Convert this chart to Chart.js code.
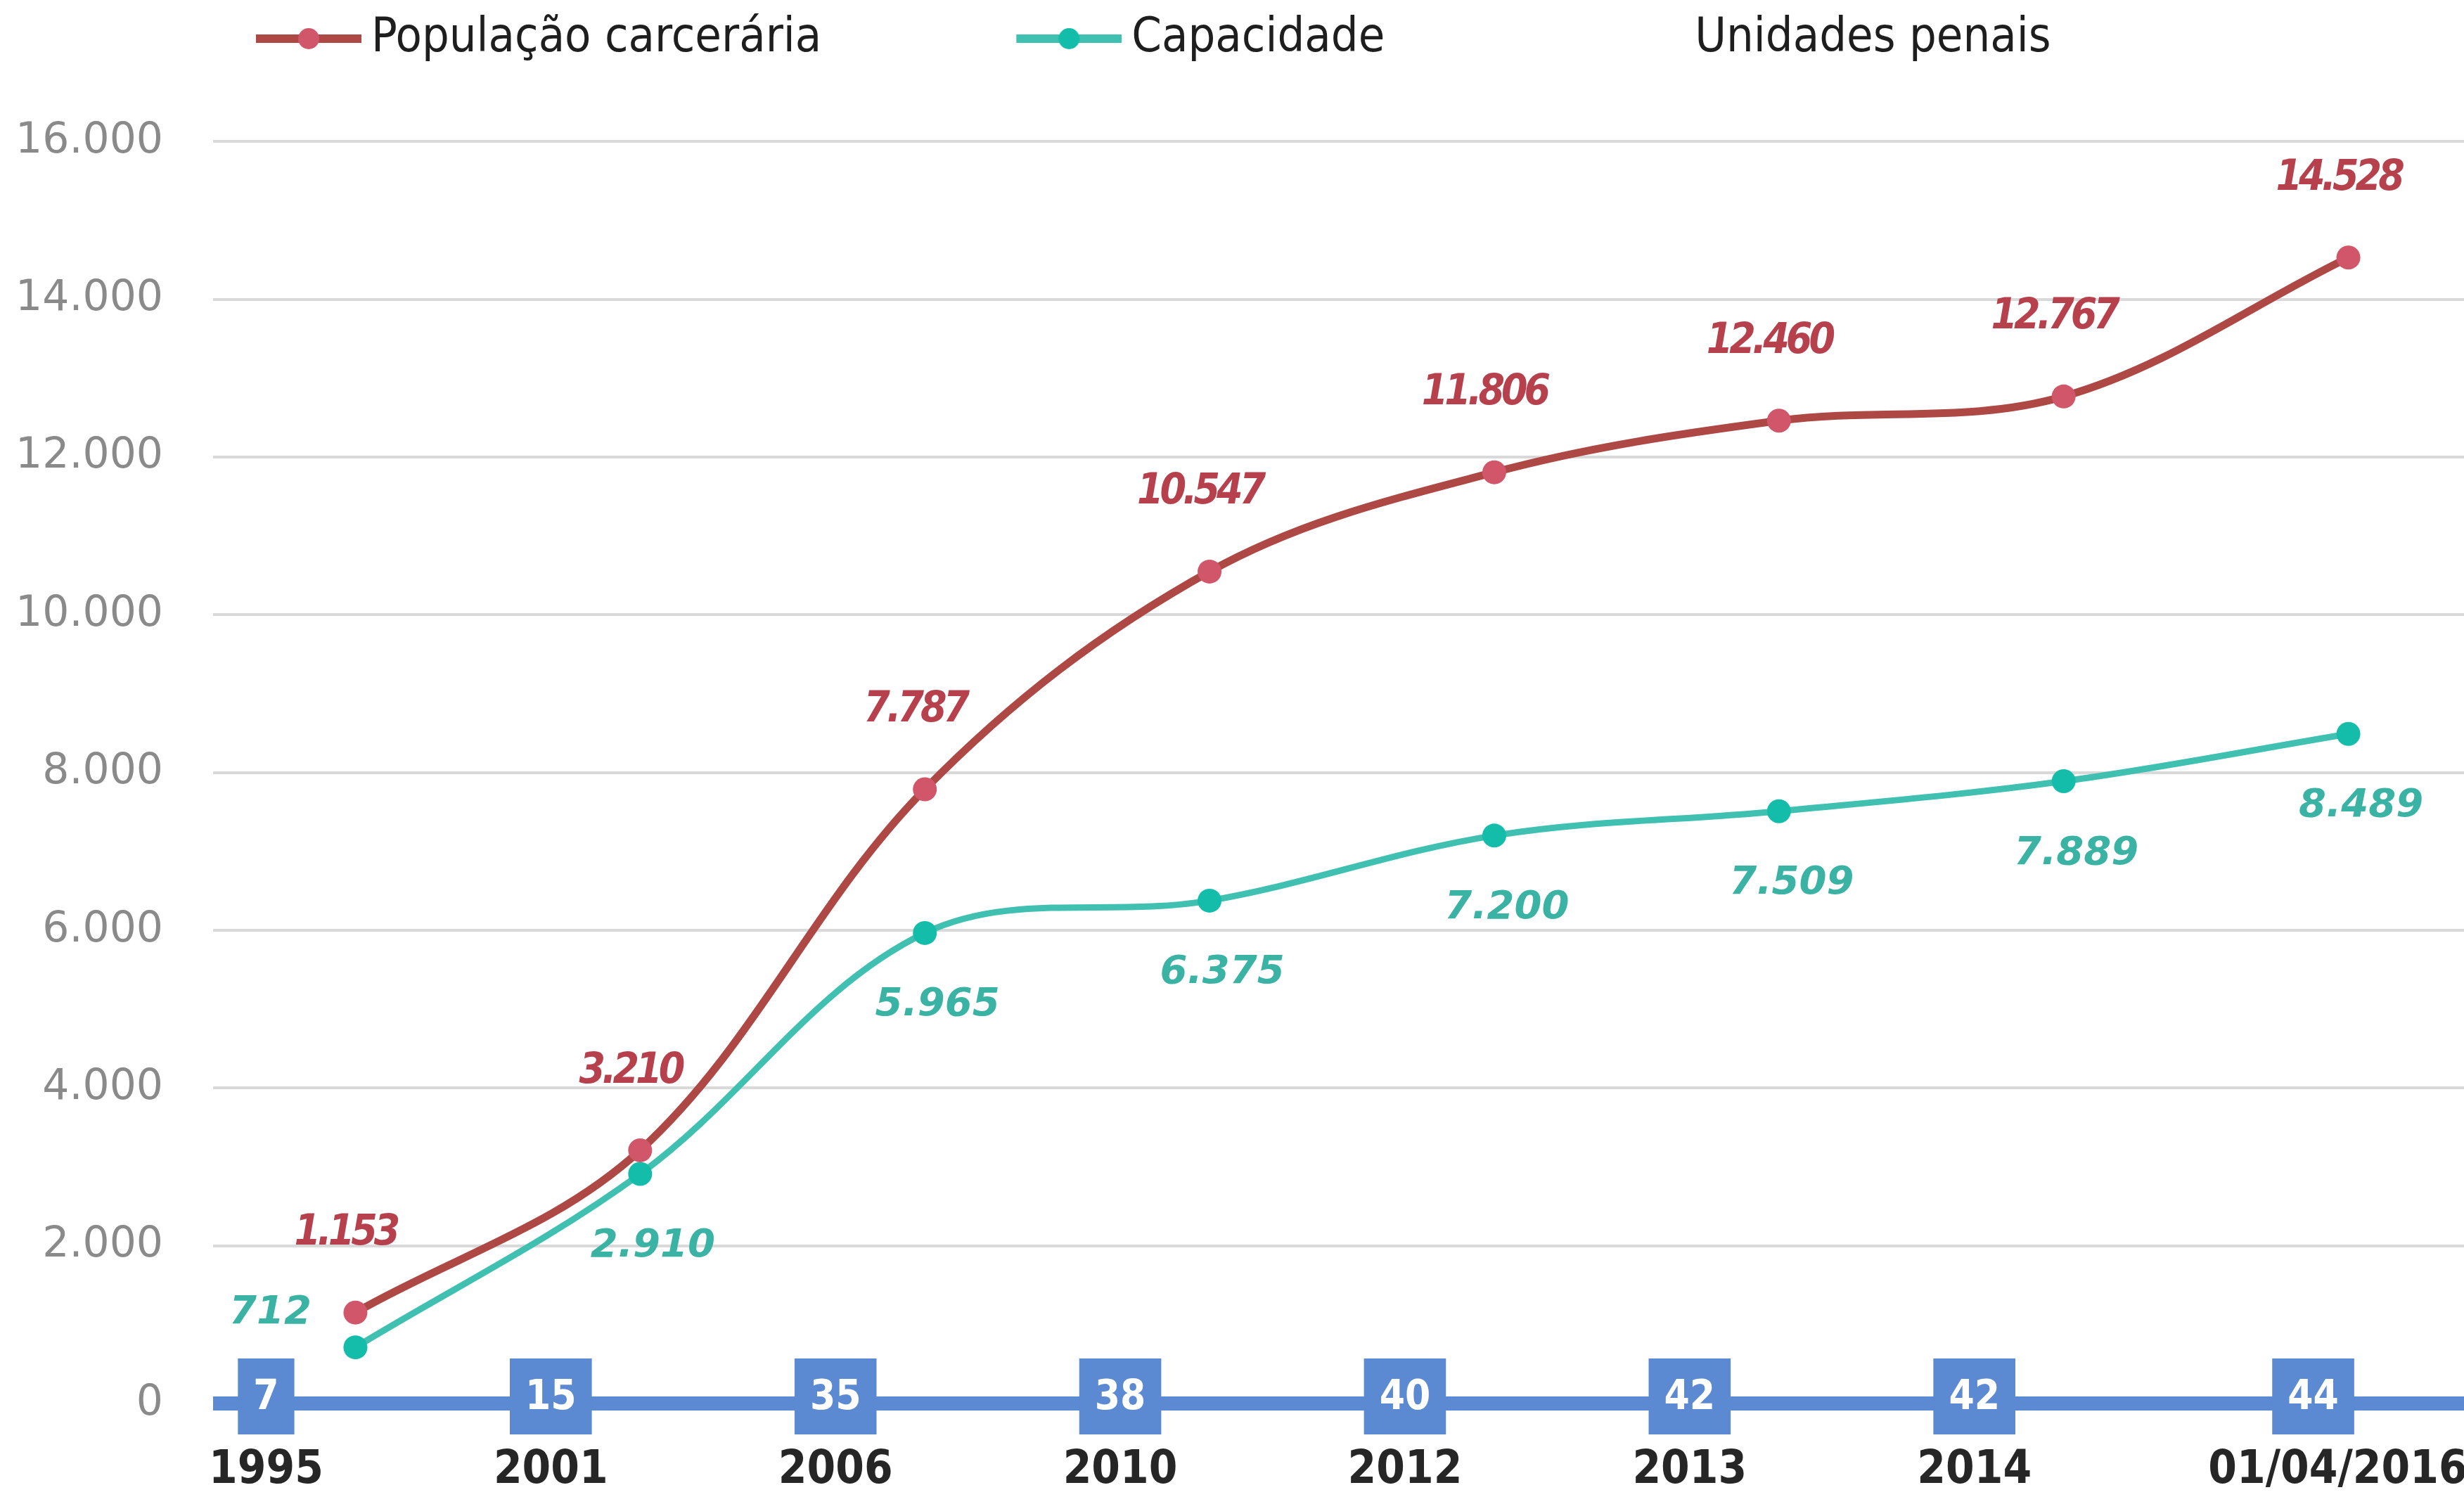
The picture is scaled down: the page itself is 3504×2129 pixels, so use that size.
<!DOCTYPE html>
<html>
<head>
<meta charset="utf-8">
<script src="https://cdn.jsdelivr.net/npm/chart.js@4.4.1/dist/chart.umd.min.js"></script>
<style>
html, body { margin: 0; padding: 0; background: #fff; overflow: hidden; }
canvas { display: block; }
</style>
</head>
<body>
<canvas id="chart" width="3559" height="2129"></canvas>
<script>
const categories = ['1995', '2001', '2006', '2010', '2012', '2013', '2014', '01/04/2016'];
const populacao = [1153, 3210, 7787, 10547, 11806, 12460, 12767, 14528];
const capacidade = [712, 2910, 5965, 6375, 7200, 7509, 7889, 8489];
const unidades = [7, 15, 35, 38, 40, 42, 42, 44];
const yMin = 0, yMax = 16000, yStep = 2000;

const RED = '#ad4845', RED_DOT = '#d2566a', RED_TEXT = '#b6404c';
const TEAL = '#3fc0b1', TEAL_DOT = '#14bdaa', TEAL_TEXT = '#3ab3a4';
const BLUE = '#5b8ad2';
const COND = '"DejaVu Sans Condensed", "DejaVu Sans", sans-serif';
const WIDE = '"DejaVu Sans", sans-serif';
const SHIFT = -127;      // year labels + unit boxes sit left of the points
const LAST_SHIFT = -50;  // ...except the last column, less so
const LEGEND_INSET = 87;

function fmt(v) {
  return String(v).replace(/\B(?=(\d{3})+(?!\d))/g, '.');
}

// legend marker: thick line with a dot, blank for "Unidades penais"
function marker(line, dot) {
  const c = document.createElement('canvas');
  c.width = 426;
  c.height = 40;
  if (line) {
    const g = c.getContext('2d');
    g.fillStyle = line;
    g.fillRect(c.width - 150, 14, 150, 12);
    g.fillStyle = dot;
    g.beginPath();
    g.arc(c.width - 75, 20, 15, 0, Math.PI * 2);
    g.fill();
  }
  return c;
}
const markers = [marker(RED, RED_DOT), marker(TEAL, TEAL_DOT), marker(null)];

// value label style per dataset
const labelStyles = [
  { font: 'italic bold 60px ' + COND, spacing: '-5px', color: RED_TEXT, dx: -14, dy: -112 },
  { font: 'italic bold 56px ' + WIDE, spacing: '0px', color: TEAL_TEXT, dx: 18, dy: 103, first: { dx: -121, dy: -49 } }
];

const valueLabels = {
  id: 'valueLabels',
  afterDatasetsDraw(chart) {
    const ctx = chart.ctx;
    labelStyles.forEach((st, di) => {
      const ds = chart.data.datasets[di];
      const meta = chart.getDatasetMeta(di);
      ctx.save();
      ctx.font = st.font;
      ctx.letterSpacing = st.spacing;
      ctx.fillStyle = st.color;
      ctx.textAlign = 'center';
      ctx.textBaseline = 'middle';
      meta.data.forEach((pt, i) => {
        const o = (i === 0 && st.first) ? st.first : st;
        ctx.fillText(fmt(ds.data[i]), pt.x + o.dx, pt.y + o.dy);
      });
      ctx.restore();
    });
  }
};

const unitBoxes = {
  id: 'unitBoxes',
  afterDatasetsDraw(chart) {
    const { ctx, scales: { x, y } } = chart;
    chart.data.datasets.forEach((ds) => {
      if (!ds.unitBoxes) return;
      ctx.save();
      ctx.font = 'bold 58px ' + COND;
      ctx.textAlign = 'center';
      ctx.textBaseline = 'middle';
      ds.data.forEach((v, i) => {
        const last = i === ds.data.length - 1;
        const cx = x.getPixelForValue(i) + (last ? LAST_SHIFT : SHIFT);
        const cy = y.getPixelForValue(0) - 10;
        const w = ctx.measureText(String(v)).width + 44;
        ctx.fillStyle = BLUE;
        ctx.fillRect(cx - w / 2, cy - 54, w, 108);
        ctx.fillStyle = '#fff';
        ctx.fillText(String(v), cx, cy + 3);
      });
      ctx.restore();
    });
  }
};

// legend starts a bit in from the left edge
const legendInset = {
  id: 'legendInset',
  afterLayout(chart) {
    chart.legend.left += LEGEND_INSET;
  }
};

new Chart(document.getElementById('chart'), {
  type: 'line',
  data: {
    labels: categories,
    datasets: [
      {
        label: 'População carcerária',
        data: populacao,
        borderColor: RED,
        borderWidth: 11,
        pointBackgroundColor: RED_DOT,
        pointBorderWidth: 0,
        pointRadius: 17,
        tension: 0.35
      },
      {
        label: 'Capacidade',
        data: capacidade,
        borderColor: TEAL,
        borderWidth: 9,
        pointBackgroundColor: TEAL_DOT,
        pointBorderWidth: 0,
        pointRadius: 17,
        tension: 0.35
      },
      {
        label: 'Unidades penais',
        data: unidades,
        showLine: false,
        pointRadius: 0,
        pointHitRadius: 0,
        unitBoxes: true
      }
    ]
  },
  options: {
    responsive: false,
    devicePixelRatio: 1,
    animation: false,
    events: [],
    layout: { padding: { left: 0, right: 7, top: 0, bottom: 0 } },
    plugins: {
      tooltip: { enabled: false },
      legend: {
        position: 'top',
        align: 'start',
        labels: {
          usePointStyle: true,
          pointStyleWidth: 386,
          padding: 21,
          color: '#1e1e1e',
          font: { family: COND, size: 68 },
          generateLabels: (chart) =>
            Chart.defaults.plugins.legend.labels.generateLabels(chart)
              .map((it) => Object.assign(it, { pointStyle: markers[it.datasetIndex] }))
        }
      },
      subtitle: {
        display: true,
        text: '',
        position: 'top',
        weight: 500,
        font: { size: 1 },
        padding: { top: 101, bottom: 0 }
      }
    },
    scales: {
      x: {
        offset: true,
        grid: { display: false, drawTicks: false },
        border: { display: false },
        ticks: {
          labelOffset: SHIFT,
          padding: 57,
          color: '#262626',
          autoSkip: false,
          maxRotation: 0,
          font: { family: COND, size: 65, weight: 'bold' },
          // last date label sits further right in the original
          callback: (v, i) => (i === categories.length - 1 ? ' '.repeat(11) : '') + categories[i]
        },
        afterFit: (s) => {
          s.height = 133;
          s.paddingLeft = 0;
          s.paddingRight = 0;
        }
      },
      y: {
        min: yMin,
        max: yMax,
        border: { display: false },
        grid: {
          drawTicks: false,
          color: (c) => c.tick.value === 0 ? BLUE : '#d9d9d9',
          lineWidth: (c) => c.tick.value === 0 ? 20 : 4
        },
        ticks: {
          stepSize: yStep,
          padding: 71,
          color: '#8a8a8a',
          font: { family: WIDE, size: 60 },
          callback: (v) => fmt(v)
        },
        afterFit: (s) => { s.width = 303; }
      }
    }
  },
  plugins: [valueLabels, unitBoxes, legendInset]
});
</script>
</body>
</html>
